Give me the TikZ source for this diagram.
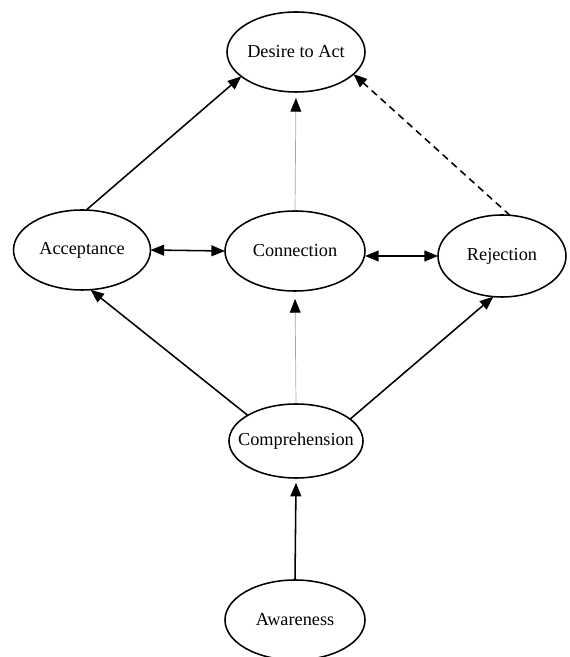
\documentclass[tikz,border=0pt]{standalone}
\usepackage{fontspec}
\setmainfont{Liberation Serif}
\usetikzlibrary{arrows.meta,shapes.geometric}

\begin{document}
\begin{tikzpicture}[
		stage/.style={ellipse, draw, line width=1.1pt, inner sep=0pt, outer sep=0pt},
		tip/.style={-{Triangle[length=0.34cm, width=0.27cm, color=black]}},
		twotip/.style={{Triangle[length=0.34cm, width=0.27cm]}-{Triangle[length=0.34cm, width=0.27cm]}},
		link/.style={tip, line width=1.1pt},
		faint/.style={tip, line width=0.5pt, draw=black!35},
		every label/.style={font=\fontsize{13}{15}\selectfont}
	]
		\useasboundingbox (0,0) rectangle (14.225,16.425);
		% stages
		\node[stage, minimum width=3.45cm, minimum height=2cm, label=center:Desire to Act] (desire) at (7.4,15.125) {};
		\node[stage, minimum width=3.425cm, minimum height=2cm, label=center:Acceptance] (accept) at (2.05,10.175) {};
		\node[stage, minimum width=3.5cm, minimum height=2cm, label=center:Connection] (connect) at (7.375,10.15) {};
		\node[stage, minimum width=3.2cm, minimum height=2.05cm, label=center:Rejection] (reject) at (12.55,10.025) {};
		\node[stage, minimum width=3.35cm, minimum height=1.85cm, label=center:Comprehension] (compr) at (7.4,5.4) {};
		\node[stage, minimum width=3.5cm, minimum height=2cm, label=center:Awareness] (aware) at (7.375,0.925) {};
		% links
		\draw[link] (aware.north) -- ([yshift=-0.12cm]compr.south);
		\draw[link] (compr.152) -- (accept.282);
		\draw[link] (compr.22) -- (reject.258);
		\draw[faint, shorten >=0.2cm] (compr.north) -- (connect.south);
		\draw[twotip, line width=1.1pt] (accept.east) -- (connect.west);
		\draw[twotip, line width=1.1pt] (connect.east |- reject.west) -- (reject.west);
		\draw[link] (accept.84) -- (desire.204);
		\draw[faint, shorten >=0.15cm] (connect.north) -- (desire.south);
		\draw[link, dash pattern=on 5pt off 3.5pt] (reject.79) -- (desire.339);
	\end{tikzpicture}
\end{document}
